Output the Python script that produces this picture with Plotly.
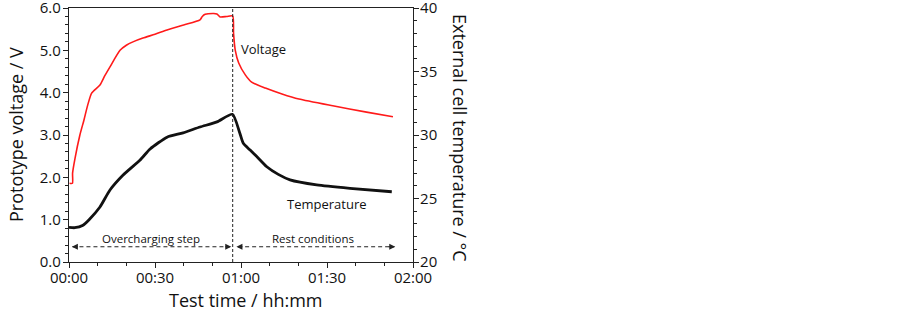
import plotly.graph_objects as go

# ---- data (time in minutes) ----
volt_time = [0.2, 1.2, 1.25, 2.1, 3.8, 5.2, 6.5, 7.9, 10.8, 12.5, 14.3, 17.8, 20.0, 22.3,
             25.8, 30.0, 34.2, 40.0, 45.7, 46.5, 47.5, 50.5, 51.6, 52.7, 55.0, 57.1,
             57.4, 58.0, 59.2, 61.5, 63.7, 68.5, 74.3, 80.2, 92.0, 103.8, 113.0]
voltage = [1.86, 1.86, 2.10, 2.45, 3.00, 3.35, 3.70, 3.99, 4.18, 4.40, 4.61, 5.00, 5.12, 5.20,
           5.29, 5.38, 5.48, 5.60, 5.72, 5.80, 5.85, 5.87, 5.86, 5.79, 5.80, 5.81,
           5.40, 5.00, 4.70, 4.42, 4.25, 4.11, 3.97, 3.85, 3.69, 3.54, 3.43]

temp_time = [0.0, 2.0, 4.9, 7.0, 10.8, 14.3, 18.8, 24.8, 28.3, 34.2, 39.8, 45.7, 51.6,
             57.0, 59.6, 60.8, 63.1, 65.5, 69.0, 73.0, 77.1, 86.4, 98.0, 112.6]
temperature = [22.73, 22.70, 22.90, 23.33, 24.33, 25.67, 26.83, 28.03, 28.90, 29.83, 30.17,
               30.63, 31.03, 31.63, 30.14, 29.35, 28.83, 28.30, 27.50, 26.90, 26.47, 26.07,
               25.80, 25.53]

x_tickvals = [0, 30, 60, 90, 120]
x_ticktext = ["00:00", "00:30", "01:00", "01:30", "02:00"]
y_tickvals = [0, 1, 2, 3, 4, 5, 6]
y_ticktext = ["0.0", "1.0", "2.0", "3.0", "4.0", "5.0", "6.0"]
y2_tickvals = [20, 25, 30, 35, 40]

step_change = 57.1  # min, end of overcharging step
arrow_level = 0.36  # V

FONT = "Open Sans"

fig = go.Figure()
fig.add_trace(go.Scatter(x=volt_time, y=voltage, mode="lines",
                         line=dict(color="#ff1a1a", width=1.6, shape="spline", smoothing=0.6),
                         yaxis="y"))
fig.add_trace(go.Scatter(x=temp_time, y=temperature, mode="lines",
                         line=dict(color="#111111", width=2.8, shape="spline", smoothing=0.6),
                         yaxis="y2"))

# vertical dashed separator
fig.add_shape(type="line", x0=step_change, x1=step_change, y0=0, y1=6, xref="x", yref="y",
              line=dict(color="#222", width=1, dash="3px,2px"))
# dashed arrow lines
fig.add_shape(type="line", x0=1.2, x1=56.0, y0=arrow_level, y1=arrow_level, xref="x", yref="y",
              line=dict(color="#222", width=1, dash="4px,3px"))
fig.add_shape(type="line", x0=59.0, x1=113.5, y0=arrow_level, y1=arrow_level, xref="x", yref="y",
              line=dict(color="#222", width=1, dash="4px,3px"))

ann = []
def head(xend, xfrom):
    ann.append(dict(x=xend, y=arrow_level, ax=xfrom, ay=arrow_level, xref="x", yref="y",
                    axref="x", ayref="y", text="", showarrow=True, arrowhead=2,
                    arrowsize=1.2, arrowwidth=1, arrowcolor="#222"))
head(1.0, 3.5)
head(56.6, 54.0)
head(58.4, 61.0)
head(113.8, 111.0)

ann += [
    dict(x=67.7, y=5.03, xref="x", yref="y", text="Voltage", showarrow=False,
         font=dict(family=FONT, size=13, color="#111")),
    dict(x=90.0, y=1.37, xref="x", yref="y", text="Temperature", showarrow=False,
         font=dict(family=FONT, size=13, color="#111")),
    dict(x=28.5, y=0.55, xref="x", yref="y", text="Overcharging step", showarrow=False,
         font=dict(family=FONT, size=11.5, color="#111")),
    dict(x=85.0, y=0.55, xref="x", yref="y", text="Rest conditions", showarrow=False,
         font=dict(family=FONT, size=11.5, color="#111")),
    dict(x=16, y=135, xref="paper", yref="paper", text="Prototype voltage / V", showarrow=False,
         textangle=-90, font=dict(family=FONT, size=18, color="#111")),
    dict(x=460, y=138, xref="paper", yref="paper", text="External cell temperature / °C",
         showarrow=False, textangle=90, font=dict(family=FONT, size=18, color="#111")),
    dict(x=245.5, y=300, xref="paper", yref="paper", text="Test time / hh:mm", showarrow=False,
         font=dict(family=FONT, size=18, color="#111")),
]

# convert pixel-positioned paper annotations into paper fractions
W, H = 903, 317
L, R, T, B = 69, 490, 8, 55
pw, ph = W - L - R, H - T - B
for a in ann:
    if a.get("xref") == "paper":
        a["x"] = (a["x"] - L) / pw
        a["y"] = 1 - (a["y"] - T) / ph
        a["xanchor"] = "center"
        a["yanchor"] = "middle"

axis_common = dict(showline=True, linecolor="#222", linewidth=1.2,
                   ticks="outside", ticklen=5, tickwidth=1, tickcolor="#222",
                   showgrid=False, zeroline=False, ticklabeloverflow="allow")

fig.update_layout(
    width=W, height=H,
    margin=dict(l=L, r=R, t=T, b=B, autoexpand=False),
    paper_bgcolor="white", plot_bgcolor="white",
    showlegend=False,
    font=dict(family=FONT, color="#111"),
    annotations=ann,
    xaxis=dict(range=[0, 120], tickvals=x_tickvals, ticktext=x_ticktext, mirror=True,
               minor=dict(dtick=10, ticks="outside", ticklen=3, tickcolor="#222"),
               tickfont=dict(size=15, family=FONT), ticklabelstandoff=-3, **axis_common),
    yaxis=dict(range=[0, 6], tickvals=y_tickvals, ticktext=y_ticktext,
               minor=dict(dtick=0.2, ticks="outside", ticklen=3, tickcolor="#222"),
               tickfont=dict(size=15, family=FONT), ticklabelstandoff=-1, **axis_common),
    yaxis2=dict(range=[20, 40], tickvals=y2_tickvals, overlaying="y", side="right",
                minor=dict(dtick=1, ticks="outside", ticklen=3, tickcolor="#222"),
                tickfont=dict(size=15, family=FONT), ticklabelstandoff=-2, **axis_common),
)

fig.write_html("out.html", config={"displayModeBar": False},
               post_script="document.body.style.margin='0';")
